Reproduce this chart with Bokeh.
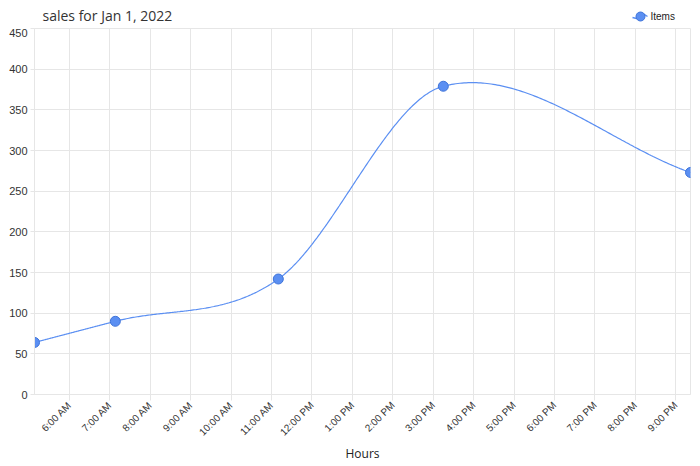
import math
from datetime import datetime
import numpy as np
from bokeh.plotting import figure
from bokeh.layouts import column
from bokeh.models import FixedTicker, Range1d, DatetimeTickFormatter
from bokeh.core.properties import value
from bokeh.embed import file_html
from bokeh.resources import INLINE

# ---- data ----
times = ["2022-01-01 05:08", "2022-01-01 07:08", "2022-01-01 11:10",
         "2022-01-01 15:15", "2022-01-01 21:22"]
items = [64, 90, 142, 379, 273]
tick_hours = list(range(6, 22))
y_ticks = [0, 50, 100, 150, 200, 250, 300, 350, 400, 450]
title_text = "sales for Jan 1, 2022"
x_title = "Hours"
series_name = "Items"

def to_ms(s):
    return datetime.strptime(s, "%Y-%m-%d %H:%M").timestamp() * 1000.0

xs = np.array([to_ms(t) for t in times])
ys = np.array(items, dtype=float)
base = to_ms("2022-01-01 00:00")

# Catmull-Rom style cubic Hermite curve through the data points (drawing only)
def spline(x, y, per_seg=120):
    k = len(x)
    m = np.zeros(k)
    m[0] = (y[1] - y[0]) / (x[1] - x[0])
    m[-1] = (y[-1] - y[-2]) / (x[-1] - x[-2])
    for i in range(1, k - 1):
        m[i] = (y[i + 1] - y[i - 1]) / (x[i + 1] - x[i - 1])
    out_x, out_y = [], []
    for i in range(k - 1):
        h = x[i + 1] - x[i]
        s = np.linspace(0, 1, per_seg)
        h00 = 2 * s**3 - 3 * s**2 + 1
        h10 = s**3 - 2 * s**2 + s
        h01 = -2 * s**3 + 3 * s**2
        h11 = s**3 - s**2
        out_x.extend(x[i] + s * h)
        out_y.extend(h00 * y[i] + h10 * h * m[i] + h01 * y[i + 1] + h11 * h * m[i + 1])
    return out_x, out_y

sx, sy = spline(xs, ys)

FONT = "Open Sans"
GRID = "#e6e6e6"
BLUE = "#5b8ff2"
EDGE = "#3f74d9"

W, HH = 700, 28
LEFT, RIGHT = 34, 10

# ---- header strip: title and legend (frame aligned with the chart frame) ----
hdr = figure(width=W, height=HH, output_backend="svg", toolbar_location=None,
             x_range=Range1d(LEFT, W - RIGHT), y_range=Range1d(HH, 0),
             x_axis_location=None, y_axis_location=None, min_border=0,
             min_border_left=LEFT, min_border_right=RIGHT)
hdr.grid.visible = False
hdr.outline_line_color = None
hdr.text(x=[42], y=[15], text=[title_text], text_font=value(FONT),
         text_font_size="14px", text_color="#333333",
         text_baseline="middle", text_align="left")
hdr.line(x=[632, 636, 640, 644, 647], y=[17, 18, 16, 14, 16], line_color=BLUE, line_width=1.5)
hdr.scatter(x=[640], y=[16], size=9, fill_color=BLUE, line_color=EDGE, line_width=1)
hdr.text(x=[650], y=[16], text=[series_name], text_font=value("Liberation Sans"),
         text_font_size="10px", text_color="#222222",
         text_baseline="middle", text_align="left")

# ---- main chart ----
p = figure(width=W, height=466 - HH, x_axis_type="datetime", output_backend="svg",
           toolbar_location=None, min_border_left=LEFT, min_border_right=RIGHT,
           min_border_top=0, min_border_bottom=72)
p.x_range = Range1d(xs[0], xs[-1])
p.y_range = Range1d(0, 450)

p.outline_line_color = GRID
p.outline_line_width = 1
p.xgrid.grid_line_color = GRID
p.ygrid.grid_line_color = GRID

p.xaxis.ticker = FixedTicker(ticks=[base + h * 3600000 for h in tick_hours])
p.xaxis.formatter = DatetimeTickFormatter(hours="%-I:%M %p", days="%-I:%M %p",
                                          minutes="%-I:%M %p", hourmin="%-I:%M %p")
p.xaxis.major_label_orientation = math.pi / 4
p.xaxis.major_label_text_font = "Liberation Sans"
p.xaxis.major_label_text_font_size = "10px"
p.xaxis.major_label_text_color = "#333333"
p.xaxis.major_label_standoff = 3
p.xaxis.axis_line_color = GRID
p.xaxis.major_tick_line_color = GRID
p.xaxis.major_tick_out = 6
p.xaxis.major_tick_in = 0
p.xaxis.minor_tick_line_color = None
p.xaxis.axis_label = x_title
p.xaxis.axis_label_text_font = FONT
p.xaxis.axis_label_text_font_size = "12px"
p.xaxis.axis_label_text_font_style = "normal"
p.xaxis.axis_label_text_color = "#222222"
p.xaxis.axis_label_standoff = 0

p.yaxis.ticker = FixedTicker(ticks=y_ticks)
p.yaxis.major_label_text_font = "Liberation Sans"
p.yaxis.major_label_text_font_size = "11px"
p.yaxis.major_label_text_color = "#333333"
p.yaxis.axis_line_color = GRID
p.yaxis.major_tick_line_color = GRID
p.yaxis.major_tick_out = 4
p.yaxis.major_tick_in = 0
p.yaxis.minor_tick_line_color = None
p.yaxis.major_label_standoff = 3

p.line(sx, sy, line_color=BLUE, line_width=1.2)
p.scatter(xs, ys, size=10, fill_color=BLUE, line_color=EDGE, line_width=1)

layout = column(hdr, p, spacing=0)
open("out.html", "w").write(file_html(layout, INLINE))
